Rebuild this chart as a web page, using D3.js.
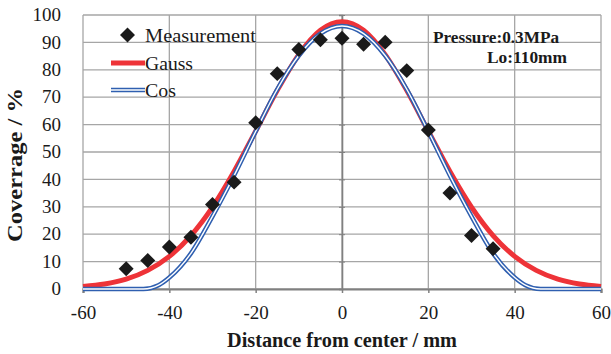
<!DOCTYPE html>
<html>
<head>
<meta charset="utf-8">
<script src="https://cdn.jsdelivr.net/npm/d3@7"></script>
<style>
  body { margin: 0; background: #fff; }
  text { font-family: "Liberation Serif", "Times New Roman", serif; fill: #1a1a1a; }
</style>
</head>
<body>
<div id="chart"></div>
<script>
// measured points (distance mm, coverage %)
var measX = [-50, -45, -40, -35, -30, -25, -20, -15, -10, -5, 0, 5, 10, 15, 20, 25, 30, 35];
var measY = [7.4, 10.4, 15.3, 18.9, 30.8, 39, 60.7, 78.6, 87.4, 91, 91.5, 89.3, 90.1, 79.7, 58, 35, 19.5, 14.7];

// fitted curves
var gaussX = [-60, -55, -50, -45, -40, -35, -30, -25, -20, -15, -10, -5, 0, 5, 10, 15, 20, 25, 30, 35, 40, 45, 50, 55, 60];
var gaussY = [0.9, 1.8, 3.6, 6.8, 11.9, 19.5, 29.9, 42.9, 57.6, 72.5, 85.5, 94.4, 97.5, 94.4, 85.5, 72.5, 57.6, 42.9, 29.9, 19.5, 11.9, 6.8, 3.6, 1.8, 0.9];

var cosX = [-60, -55, -50, -46, -42.5, -40, -35, -30, -25, -20, -15, -10, -5, 0, 5, 10, 15, 20, 25, 30, 35, 40, 42.5, 46, 50, 55, 60];
var cosY = [0, 0, 0, 0, 1.4, 4.2, 13, 26.5, 41.4, 57.5, 72.9, 85.2, 93.2, 96, 93.2, 85.2, 72.9, 57.5, 41.4, 26.5, 13, 4.2, 1.4, 0, 0, 0, 0];

var xTicks = [-60, -40, -20, 0, 20, 40, 60];
var yTicks = [0, 10, 20, 30, 40, 50, 60, 70, 80, 90, 100];

var margin = { top: 15, right: 10, bottom: 65, left: 83 },
    width = 611 - margin.left - margin.right,
    height = 354 - margin.top - margin.bottom;

var x = d3.scaleLinear().domain([-60, 60]).range([0, width]);
var y = d3.scaleLinear().domain([0, 100]).range([height, 0]);

var svg = d3.select("#chart").append("svg")
    .attr("width", 611)
    .attr("height", 354)
  .append("g")
    .attr("transform", "translate(" + margin.left + "," + margin.top + ")");

// grid
svg.append("g").selectAll("line")
    .data(yTicks)
  .enter().append("line")
    .attr("x1", 0).attr("x2", width)
    .attr("y1", function(d) { return y(d); })
    .attr("y2", function(d) { return y(d); })
    .attr("stroke", "#a6a6a6")
    .attr("stroke-width", 1.3);

svg.append("g").selectAll("line")
    .data(xTicks)
  .enter().append("line")
    .attr("x1", function(d) { return x(d); })
    .attr("x2", function(d) { return x(d); })
    .attr("y1", 0).attr("y2", height)
    .attr("stroke", "#a6a6a6")
    .attr("stroke-width", 1.3);

// x axis at y = 0
var xAxis = d3.axisBottom(x).tickValues(xTicks).tickSize(4);
var gx = svg.append("g")
    .attr("transform", "translate(0," + height + ")")
    .call(xAxis);
gx.select(".domain").attr("stroke", "#808080").attr("stroke-width", 2.2);
gx.selectAll(".tick line").attr("stroke", "#808080").attr("stroke-width", 1.5);
gx.selectAll(".tick text")
    .attr("y", 17)
    .style("font-family", "Liberation Serif")
    .style("font-size", "19px")
    .attr("fill", "#1a1a1a")
    .text(function(d) { return d; });

// vertical axis line at x = 0, labels on the left
var yAxis = d3.axisLeft(y).tickValues(yTicks).tickSize(3);
var gy = svg.append("g")
    .attr("transform", "translate(" + x(0) + ",0)")
    .call(yAxis);
gy.select(".domain").attr("stroke", "#808080").attr("stroke-width", 1.6);
gy.selectAll(".tick line").attr("stroke", "#808080").attr("x1", 3).attr("x2", -3);
gy.selectAll(".tick text").remove();

svg.append("g").selectAll("text")
    .data(yTicks)
  .enter().append("text")
    .attr("x", -22)
    .attr("y", function(d) { return y(d); })
    .attr("dy", "0.33em")
    .attr("text-anchor", "end")
    .style("font-size", "19px")
    .text(function(d) { return d; });

var gaussLine = d3.line()
    .curve(d3.curveMonotoneX)
    .x(function(d, i) { return x(gaussX[i]); })
    .y(function(d) { return y(d); });

var cosLine = d3.line()
    .curve(d3.curveMonotoneX)
    .x(function(d, i) { return x(cosX[i]); })
    .y(function(d) { return y(d); });

// Gauss
svg.append("path")
    .datum(gaussY)
    .attr("fill", "none")
    .attr("stroke", "#ee3338")
    .attr("stroke-width", 5)
    .attr("d", gaussLine);

// Cos (double line)
svg.append("path")
    .datum(cosY)
    .attr("fill", "none")
    .attr("stroke", "#2f5fb0")
    .attr("stroke-width", 4.5)
    .attr("d", cosLine);
svg.append("path")
    .datum(cosY)
    .attr("fill", "none")
    .attr("stroke", "#fff")
    .attr("stroke-width", 1.4)
    .attr("d", cosLine);

// measurement diamonds
var diamond = d3.symbol().type(d3.symbolSquare).size(112);
svg.selectAll(".dot")
    .data(measY)
  .enter().append("path")
    .attr("class", "dot")
    .attr("d", diamond)
    .attr("fill", "#1a1a1a")
    .attr("transform", function(d, i) {
        return "translate(" + x(measX[i]) + "," + y(d) + ") rotate(45)";
    });

// legend + annotation, page coordinates
var legend = svg.append("g").attr("transform", "translate(" + (-margin.left) + "," + (-margin.top) + ")");

function label(g, px, py, str, len, size, bold) {
    var t = g.append("text")
        .attr("x", px).attr("y", py)
        .attr("textLength", len)
        .attr("lengthAdjust", "spacingAndGlyphs")
        .style("font-size", size + "px")
        .text(str);
    if (bold) t.style("font-weight", "bold");
    return t;
}

legend.append("path")
    .attr("d", diamond)
    .attr("fill", "#1a1a1a")
    .attr("transform", "translate(127.5,35) rotate(45)");
label(legend, 145, 42, "Measurement", 111, 19.5);

legend.append("line")
    .attr("x1", 111).attr("x2", 145).attr("y1", 63).attr("y2", 63)
    .attr("stroke", "#ee3338").attr("stroke-width", 5);
label(legend, 145, 69.5, "Gauss", 48, 19.5);

legend.append("line")
    .attr("x1", 111).attr("x2", 145).attr("y1", 90).attr("y2", 90)
    .attr("stroke", "#2f5fb0").attr("stroke-width", 4.5);
legend.append("line")
    .attr("x1", 111).attr("x2", 145).attr("y1", 90).attr("y2", 90)
    .attr("stroke", "#fff").attr("stroke-width", 1.4);
label(legend, 145, 97, "Cos", 31, 19.5);

label(legend, 433, 43, "Pressure:0.3MPa", 126, 17, true);
label(legend, 487, 62.5, "Lo:110mm", 80, 17, true);

// axis titles
label(legend, 227, 346.5, "Distance from center / mm", 230, 20, true);

legend.append("text")
    .attr("transform", "translate(22,242) rotate(-90)")
    .attr("textLength", 154)
    .attr("lengthAdjust", "spacingAndGlyphs")
    .style("font-size", "20px")
    .style("font-weight", "bold")
    .text("Coverrage / %");
</script>
</body>
</html>
